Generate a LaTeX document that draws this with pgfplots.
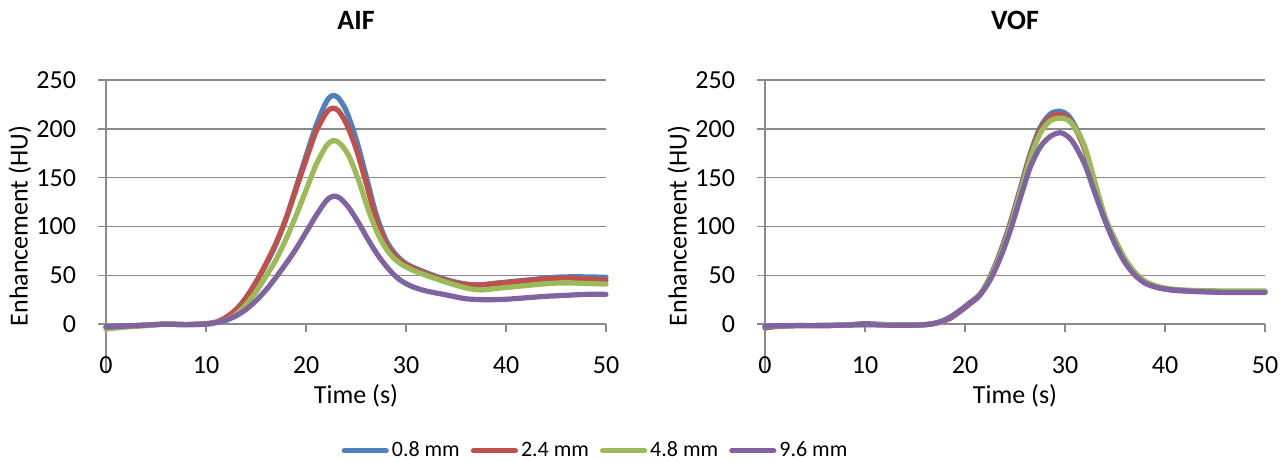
\documentclass[border=0pt]{standalone}
\usepackage{pgfplots}
\pgfplotsset{compat=1.18}
\usepackage{fontspec}
\setmainfont{Carlito}
\definecolor{cBlue}{HTML}{4F81BD}
\definecolor{cRed}{HTML}{C0504D}
\definecolor{cGreen}{HTML}{9BBB59}
\definecolor{cPurple}{HTML}{8064A2}
\definecolor{cGrid}{HTML}{8A8A8A}
\pgfplotsset{
  myaxis/.style={
    scale only axis, width=250pt, height=146pt,
    xmin=0, xmax=50, ymin=-49, ymax=250,
    xtick={0,10,...,50}, ytick={0,50,...,250},
    axis x line*=middle, axis y line*=left,
    hide obscured x ticks=false,
    axis line style={cGrid, line width=0.75pt},
    ymajorgrids, grid style={cGrid, line width=0.75pt},
    major tick length=4pt, tick align=outside,
    tick style={cGrid, line width=0.75pt},
    clip=false,
    /pgf/number format/assume math mode=true,
    font=\fontsize{13}{15}\selectfont,
    ticklabel style={font=\fontsize{13}{15}\selectfont},
    yticklabel style={xshift=-7.5pt},
    xticklabel style={yshift=-8.5pt},
    title style={at={(axis description cs:0.5,1)}, anchor=base, yshift=19pt, font=\fontsize{14}{16}\selectfont\bfseries},
    xlabel style={at={(axis description cs:0.5,0)}, anchor=base, yshift=-15.5pt},
    ylabel style={at={(axis description cs:0,0.5)}, anchor=center, yshift=43pt},
    xlabel={Time (s)}, ylabel={Enhancement (HU)},
    every axis plot/.append style={line width=2.6pt, smooth, tension=0.5, line cap=round, line join=round, mark=none},
  }
}
\begin{document}
\begin{tikzpicture}
\useasboundingbox (-53pt,-44.5pt) rectangle (587pt,186pt);
\begin{axis}[myaxis, title={AIF},
  legend columns=4,
  legend style={at={(rel axis cs:0.98,-0.27)}, anchor=center, draw=none, fill=none,
    font=\fontsize{11}{13}\selectfont,
    /tikz/every even column/.append style={column sep=4pt},
    nodes={inner sep=1.5pt}},
  legend image code/.code={\draw[#1, line width=2.6pt, line cap=round] (0pt,0pt) -- (21pt,0pt);},
  legend cell align=left]
\addplot[cBlue] coordinates {(0,-3)(2,-2)(4,-1)(6,0)(8,-0.5)(10,0.5)(11,2)(12,6)(13,14)(14,27)(15,43)(16,61)(17,82)(18,108)(19,140)(20,172)(21,203)(22,227)(22.6,234)(23.2,232)(24,219)(25,190)(26,152)(27,113)(28,86)(29,71)(30,62)(31,57)(33,49)(35,43)(37,40)(39,42)(41,44)(43,46)(45,48)(47,48.5)(50,48)};
\addlegendentry{0.8 mm}
\addplot[cRed] coordinates {(0,-3)(2,-2)(4,-1)(6,0)(8,-0.5)(10,0.5)(11,2)(12,7)(13,15)(14,27)(15,43)(16,62)(17,83)(18,108)(19,138)(20,168)(21,197)(22,216)(22.6,221)(23.2,219)(24,206)(25,180)(26,145)(27,108)(28,83)(29,69)(30,61)(31,56)(33,48)(35,42)(37,40)(39,41.5)(41,43.5)(43,45.5)(45,47)(47,47)(50,45)};
\addlegendentry{2.4 mm}
\addplot[cGreen] coordinates {(0,-5)(2,-3)(4,-1.5)(6,0)(8,-0.5)(10,0)(11,1.5)(12,4)(13,10)(14,20)(15,33)(16,49)(17,66)(18,87)(19,111)(20,137)(21,163)(22,182)(22.7,188)(23.4,185)(24.3,172)(25.3,146)(26.3,115)(27.3,90)(28.3,73)(29.3,63)(30.5,56)(32,50)(34,43)(36,37)(37.5,35)(39,36.5)(41,38.5)(43,40.5)(45,42)(47,42)(50,41)};
\addlegendentry{4.8 mm}
\addplot[cPurple] coordinates {(0,-3)(2,-2)(4,-1)(6,0)(8,-0.5)(10,0)(11,1.5)(12,4)(13,8.5)(14,15)(15,24)(16,35)(17,48)(18,62)(19,77)(20,94)(21,111)(22,126)(22.7,131)(23.4,129)(24.3,119)(25.3,103)(26.3,85)(27.3,69)(28.3,56)(29.3,46)(30.5,39)(32,34)(34,30)(36,26)(38,25)(40,25.5)(42,27)(44,28.5)(46,29.5)(48,30.5)(50,30.5)};
\addlegendentry{9.6 mm}
\end{axis}
\begin{axis}[myaxis, title={VOF}, at={(329.5pt,0pt)}]
\addplot[cBlue] coordinates {(0,-4)(1,-2.5)(3,-1.5)(5,-1.5)(8,-1)(10,0.5)(12,-0.5)(15,-1)(16.5,0)(17.5,2)(18.5,6)(19.5,13)(20.5,21)(21.5,30)(22.5,48)(23.5,73)(24.5,103)(25.5,138)(26.5,174)(27.5,201)(28.5,215)(29.5,218)(30.3,214)(31,203)(32,180)(33,143)(34,108)(35,85)(36,66)(37,52)(38,43.5)(39,39)(40,36.5)(41,35)(43,34)(46,33.5)(50,33.5)};
\addplot[cRed] coordinates {(0,-3)(1,-2.5)(3,-1.5)(5,-1.5)(8,-1)(10,0)(12,-0.5)(15,-1)(16.5,0)(17.5,2)(18.5,6)(19.5,13)(20.5,21)(21.5,30)(22.5,48)(23.5,72)(24.5,101)(25.5,136)(26.5,172)(27.5,199)(28.5,212)(29.5,215)(30.3,211)(31,201)(32,178)(33,142)(34,107)(35,84)(36,65.5)(37,51.5)(38,43)(39,38.5)(40,36)(41,34.5)(43,33.5)(46,33)(50,33)};
\addplot[cGreen] coordinates {(0,-2)(1,-2)(3,-1.5)(5,-1.5)(8,-1)(10,-0.5)(12,-0.5)(15,-1)(16.5,0)(17.5,2)(18.5,7)(19.5,14)(20.5,22)(21.5,31)(22.5,47)(23.5,70)(24.5,99)(25.5,134)(26.5,169)(27.5,195)(28.5,208)(29.5,211)(30.3,209)(31,201)(32,181)(33,145)(34,110)(35,87)(36,67)(37,53)(38,44)(39,39.5)(40,37)(41,35.5)(43,34.5)(46,34)(50,34)};
\addplot[cPurple] coordinates {(0,-2)(2,-1.5)(5,-1.5)(8,-1)(10,-0.5)(12,-1)(15,-1)(16.5,0)(17.5,2.5)(18.5,7)(19.5,14)(20.5,22)(21.5,30)(22.5,45)(23.5,67)(24.5,95)(25.5,128)(26.5,160)(27.5,181)(28.5,192)(29.5,196)(30.3,192)(31,183)(32,163)(33,134)(34,106)(35,82)(36,63)(37,50)(38,42)(39,38)(40,36)(41,35)(43,33.5)(46,32.5)(50,32.5)};
\end{axis}
\end{tikzpicture}
\end{document}
